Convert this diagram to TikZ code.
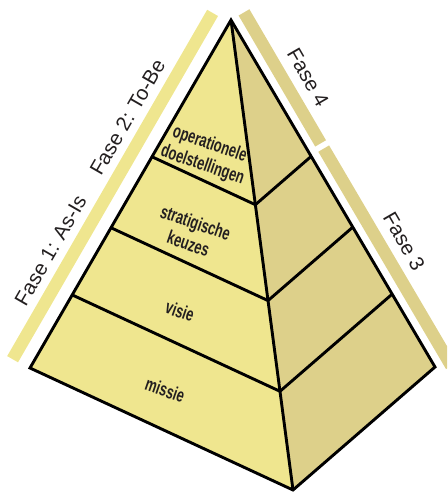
\documentclass[tikz,border=0pt]{standalone}
\usepackage{fontspec}
\setmainfont{Liberation Sans}
\newfontfamily\laagfont[FakeStretch=0.68]{Liberation Sans}
\usetikzlibrary{calc}
\definecolor{voorgeel}{RGB}{239,230,143}
\definecolor{zijgeel}{RGB}{221,208,138}
\definecolor{inkt}{RGB}{35,31,32}
\tikzset{
	laag/.style={font=\laagfont\bfseries\fontsize{19}{22}\selectfont, text=inkt, align=center, rotate=-19},
	fase/.style={font=\fontsize{20.5}{24}\selectfont, text=inkt, anchor=base},
	balk/.style={line width=12.5pt, line cap=butt}
}
\begin{document}
\begin{tikzpicture}[x=1pt, y=-1pt, line width=2.9pt, line join=miter]
	\clip (0,0) rectangle (447,492);
	%\draw[dotted] (0,0) grid[step=50] (447,492);
	\coordinate (apex) at (231,20);
	\coordinate (lft) at (30,368);
	\coordinate (frt) at (293,490);
	\coordinate (rgt) at (435,367);
	% vlakken
	\fill[voorgeel] (apex) -- (lft) -- (frt) -- cycle;
	\fill[zijgeel] (apex) -- (frt) -- (rgt) -- cycle;
	% balken
	\draw[balk, voorgeel] (212.6,12.9) -- (12.6,359.2);
	\draw[balk, zijgeel] (244.0,12.4) -- (320.6,143.4);
	\draw[balk, zijgeel] (323.7,148.6) -- (451.4,365.9);
	% lijnen
	\draw (apex) -- (lft) -- (frt) -- (rgt) -- cycle;
	\draw (apex) -- (frt);
	\foreach \t in {0.393,0.597,0.79}{
		\draw ($(apex)!\t!(lft)$) -- ($(apex)!\t!(frt)$) -- ($(apex)!\t!(rgt)$);
	}
	% teksten
	\node[laag] (doel) at (206,155) {operationele\\doelstellingen};
	\node[laag] (keuze) at (192,233) {stratigische\\keuzes};
	\node[laag] (visie) at (180,311) {visie};
	\node[laag] (missie) at (165,390) {missie};
	\node[fase, rotate=60] (fase1) at (56.6,254.1) {Fase 1: As-Is};
	\node[fase, rotate=60] (fase2) at (133.6,120.8) {Fase 2: To-Be};
	\node[fase, rotate=-60] (fase4) at (302,81) {Fase 4};
	\node[fase, rotate=-60] (fase3) at (398,245) {Fase 3};
\end{tikzpicture}
\end{document}
